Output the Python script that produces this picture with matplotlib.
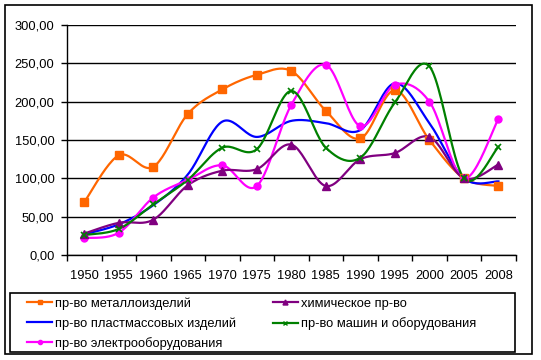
import numpy as np
import matplotlib.pyplot as plt
from matplotlib.lines import Line2D
from matplotlib.patches import Rectangle

plt.rcParams['font.family'] = ['Liberation Sans', 'DejaVu Sans']

years = ['1950', '1955', '1960', '1965', '1970', '1975', '1980',
         '1985', '1990', '1995', '2000', '2005', '2008']

metal = [69, 130, 115, 184, 216, 235, 240, 188, 152, 215, 150, 100, 90]
chem = [28, 42, 46, 91, 110, 112, 144, 90, 125, 133, 154, 100, 118]
plastic = [27, 40, 65, 105, 174, 154, 175, 172, 163, 224, 172, 100, 96]
machines = [26, 34, 66, 98, 140, 138, 214, 140, 127, 199, 246, 100, 141]
electro = [22, 29, 75, 98, 117, 90, 196, 248, 168, 222, 200, 100, 178]

series = [
    ('пр-во металлоизделий', metal, '#FF6600', 's', 6),
    ('пр-во пластмассовых изделий', plastic, '#0000FF', None, 0),
    ('пр-во электрооборудования', electro, '#FF00FF', 'o', 5),
    ('химическое пр-во', chem, '#800080', '^', 6),
    ('пр-во машин и оборудования', machines, '#008000', 'x', 5),
]


def smooth(y, n=24):
    """Excel-like smoothed line (Catmull-Rom bezier)"""
    x = np.arange(len(y), dtype=float)
    p = np.column_stack([x, np.asarray(y, dtype=float)])
    p = np.vstack([p[:1], p, p[-1:]])
    t = np.linspace(0, 1, n)[:, None]
    out = []
    for i in range(1, len(p) - 2):
        p0, p1, p2, p3 = p[i - 1], p[i], p[i + 1], p[i + 2]
        c1 = p1 + (p2 - p0) / 6
        c2 = p2 - (p3 - p1) / 6
        seg = ((1 - t) ** 3 * p1 + 3 * (1 - t) ** 2 * t * c1
               + 3 * (1 - t) * t ** 2 * c2 + t ** 3 * p2)
        out.append(seg if i == 1 else seg[1:])
    out = np.vstack(out)
    return out[:, 0], out[:, 1]


W, H = 541, 360
fig = plt.figure(figsize=(W / 100, H / 100), dpi=100)
ax = fig.add_axes([67 / W, 1 - 255 / H, 448.7 / W, 230 / H])

handles = []
for label, vals, color, marker, ms in series:
    sx, sy = smooth(vals)
    ax.plot(sx, sy, color=color, lw=1.6, zorder=3)
    if marker:
        ax.plot(range(len(vals)), vals, linestyle='none', marker=marker,
                color=color, markersize=ms, mew=1.2 if marker == 'x' else 1,
                zorder=4)
    handles.append(Line2D([], [], color=color, lw=1.6, marker=marker,
                          markersize=ms * 0.6 if marker else 0))

ax.set_xlim(-0.5, len(years) - 0.5)
ax.set_ylim(0, 300)
ax.set_yticks(np.arange(0, 301, 50))
ax.set_yticklabels(['{:.2f}'.format(v).replace('.', ',') for v in range(0, 301, 50)])
ax.set_xticks(range(len(years)))
ax.set_xticklabels(years)
ax.set_xticks(np.arange(-0.5, len(years)), minor=True)
ax.tick_params(axis='x', which='major', length=0, pad=11, labelsize=9.3)
ax.tick_params(axis='x', which='minor', length=4, width=1, direction='out')
ax.tick_params(axis='y', length=4, width=1, direction='out', pad=5, labelsize=9.3)

ax.grid(axis='y', color='black', lw=1)
ax.set_axisbelow(True)
for s in ['top', 'right']:
    ax.spines[s].set_visible(False)
for s in ['left', 'bottom']:
    ax.spines[s].set_color('black')
    ax.spines[s].set_linewidth(1)

# outer chart border and legend box
fig.patches.append(Rectangle((5 / W, 1 - 353.5 / H), 526.7 / W, 348.5 / H,
                             transform=fig.transFigure, fill=False,
                             edgecolor='black', lw=1.2))
fig.patches.append(Rectangle((9.5 / W, 1 - 351.7 / H), 505.5 / W, 58.4 / H,
                             transform=fig.transFigure, fill=False,
                             edgecolor='black', lw=1.2))

labels = [s[0] for s in series]
leg = fig.legend(handles, labels, loc='upper left',
                 bbox_to_anchor=(27 / W, 1 - 297.5 / H),
                 ncol=2, borderaxespad=0, borderpad=0, fontsize=9.3,
                 frameon=False, handlelength=1.94, handletextpad=0.23,
                 labelspacing=0.55, columnspacing=2.85)

fig.savefig('out.png', dpi=100)
